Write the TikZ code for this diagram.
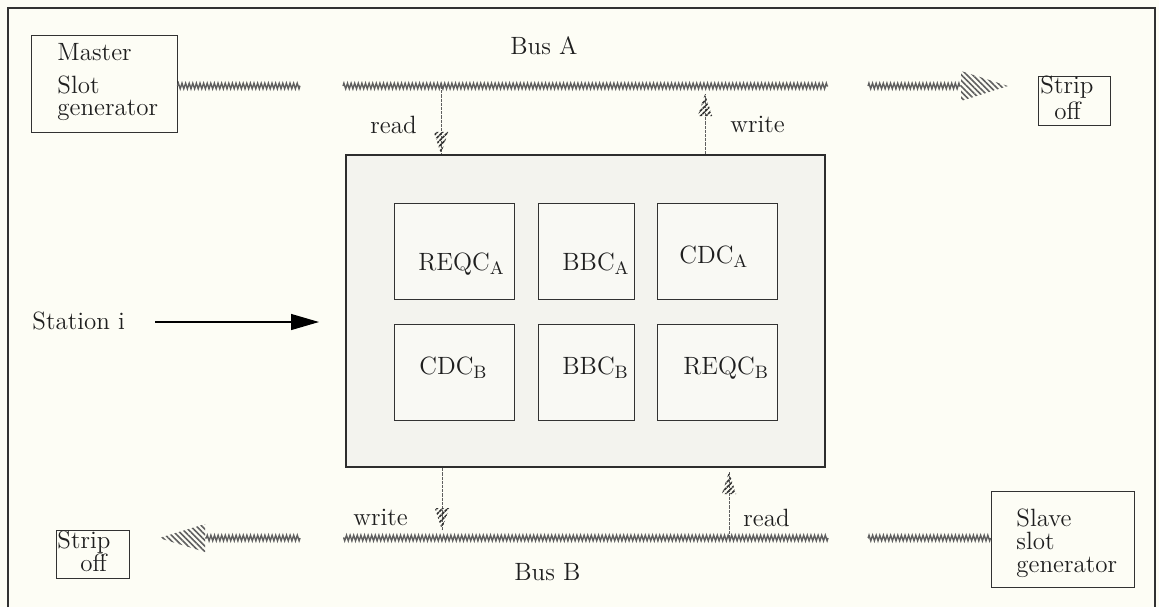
\documentclass[tikz,border=0pt]{standalone}
\usetikzlibrary{decorations.pathmorphing,decorations.markings,patterns.meta,arrows.meta}
\definecolor{paper}{RGB}{253,253,245}
\definecolor{ink}{RGB}{50,50,50}
\definecolor{wire}{RGB}{95,95,95}
\definecolor{panel}{RGB}{243,243,238}
\definecolor{cell}{RGB}{249,249,244}
\tikzset{
  box/.style={draw=ink, line width=0.5pt, inner sep=0pt},
  cellbox/.style={box, fill=cell, minimum height=48pt},
  txt/.style={anchor=base west, inner sep=0pt, text=black!88},
  bus/.style={draw=wire, line width=0.7pt, decorate,
    decoration={zigzag, segment length=1.8pt, amplitude=1.4pt}},
  hatchfill/.style={pattern={Lines[angle=45,distance=1.9pt,line width=0.8pt]},
    pattern color=ink},
  bighatch/.style={pattern={Lines[angle=-45,distance=2pt,line width=0.8pt]},
    pattern color=wire},
  link/.style={draw=wire, line width=0.45pt, dash pattern=on 1.6pt off 0.5pt,
    postaction={decorate, decoration={markings,
      mark=at position 1 with {\fill[hatchfill] (0pt,0pt) -- (-11pt,3.6pt) -- (-11pt,-3.6pt) -- cycle;}}}},
}
\begin{document}
\begin{tikzpicture}[x=0.5pt,y=-0.5pt,font=\fontsize{12.5}{15}\selectfont]
  % page and outer frame
  \fill[paper] (0,0) rectangle (1159,607);
  \useasboundingbox (0,0) rectangle (1159,607);
  \draw[ink, line width=0.75pt] (8,607) -- (8,8) -- (1155,8) -- (1155,607);

  % end units
  \node[box, minimum width=73pt, minimum height=48.5pt] (master) at (104,83.5) {};
  \node[txt] at (57,60) {Master};
  \node[txt] at (57,93) {Slot};
  \node[txt] at (57,115) {generator};

  \node[box, minimum width=36pt, minimum height=24.5pt] (stripA) at (1074,100.5) {};
  \node[txt] at (1040,93) {Strip};
  \node[txt] at (1054,119) {off};

  \node[box, minimum width=36.5pt, minimum height=24pt] (stripB) at (92.5,554) {};
  \node[txt] at (57,548) {Strip};
  \node[txt] at (80,571) {off};

  \node[box, minimum width=71.5pt, minimum height=48pt] (slave) at (1062.5,539) {};
  \node[txt] at (1016,526) {Slave};
  \node[txt] at (1016,549) {slot};
  \node[txt] at (1016,572) {generator};

  % station with its counters
  \node[draw=ink!90!black, line width=1.1pt, fill=panel, inner sep=0pt,
        minimum width=239.5pt, minimum height=156pt] (stn) at (585.5,311) {};
  \node[cellbox, minimum width=60pt] (reqa) at (454,251) {};
  \node[cellbox, minimum width=48pt] (bbca) at (586,251) {};
  \node[cellbox, minimum width=60pt] (cdca) at (717,251) {};
  \node[cellbox, minimum width=60pt] (cdcb) at (454,372) {};
  \node[cellbox, minimum width=48pt] (bbcb) at (586,372) {};
  \node[cellbox, minimum width=60pt] (reqb) at (717,372) {};
  \node[txt] at (418,270) {REQC$_{\mathrm{A}}$};
  \node[txt] at (562,270) {BBC$_{\mathrm{A}}$};
  \node[txt] at (679,263) {CDC$_{\mathrm{A}}$};
  \node[txt] at (419,374) {CDC$_{\mathrm{B}}$};
  \node[txt] at (562,374) {BBC$_{\mathrm{B}}$};
  \node[txt] at (683,374) {REQC$_{\mathrm{B}}$};

  % bus A
  \coordinate (a1) at (300,86);
  \coordinate (a2) at (343,86);
  \coordinate (a3) at (828,86);
  \coordinate (a4) at (868,86);
  \coordinate (a5) at (961,86);
  \coordinate (a6) at (1008,86);
  \draw[bus] (master.east |- a1) -- (a1);
  \draw[bus] (a2) -- (a3);
  \draw[bus] (a4) -- (a5);
  \fill[bighatch] (a6) -- (a5 |- 0,71) -- (a5 |- 0,101) -- cycle;
  \node[txt] at (510,54) {Bus A};

  % bus B
  \coordinate (b1) at (868,538);
  \coordinate (b2) at (828,538);
  \coordinate (b3) at (343,538);
  \coordinate (b4) at (300,538);
  \coordinate (b5) at (205,538);
  \coordinate (b6) at (159,538);
  \draw[bus] (slave.west |- b1) -- (b1);
  \draw[bus] (b2) -- (b3);
  \draw[bus] (b4) -- (b5);
  \fill[bighatch] (b6) -- (b5 |- 0,524) -- (b5 |- 0,552) -- cycle;
  \node[txt] at (514,580) {Bus B};

  % read / write taps
  \coordinate (ra) at (441,86);
  \coordinate (wa) at (705,86);
  \coordinate (wb) at (442,538);
  \coordinate (rb) at (729,538);
  \draw[link] (ra) -- (ra |- stn.north);
  \draw[link] (wa |- stn.north) -- ([yshift=-4pt]wa);
  \draw[link] (wb |- stn.south) -- ([yshift=4pt]wb);
  \draw[link] (rb) -- ([yshift=-2pt]rb |- stn.south);
  \node[txt] at (370,133) {read};
  \node[txt] at (730,132) {write};
  \node[txt] at (353,525) {write};
  \node[txt] at (743,526) {read};

  % station pointer
  \node[txt] (stlabel) at (32,329) {Station i};
  \coordinate (sp) at (319,322);
  \draw[black, line width=0.6pt, -{Triangle[length=14pt,width=8pt]}] (155,322) -- (sp);
\end{tikzpicture}
\end{document}
